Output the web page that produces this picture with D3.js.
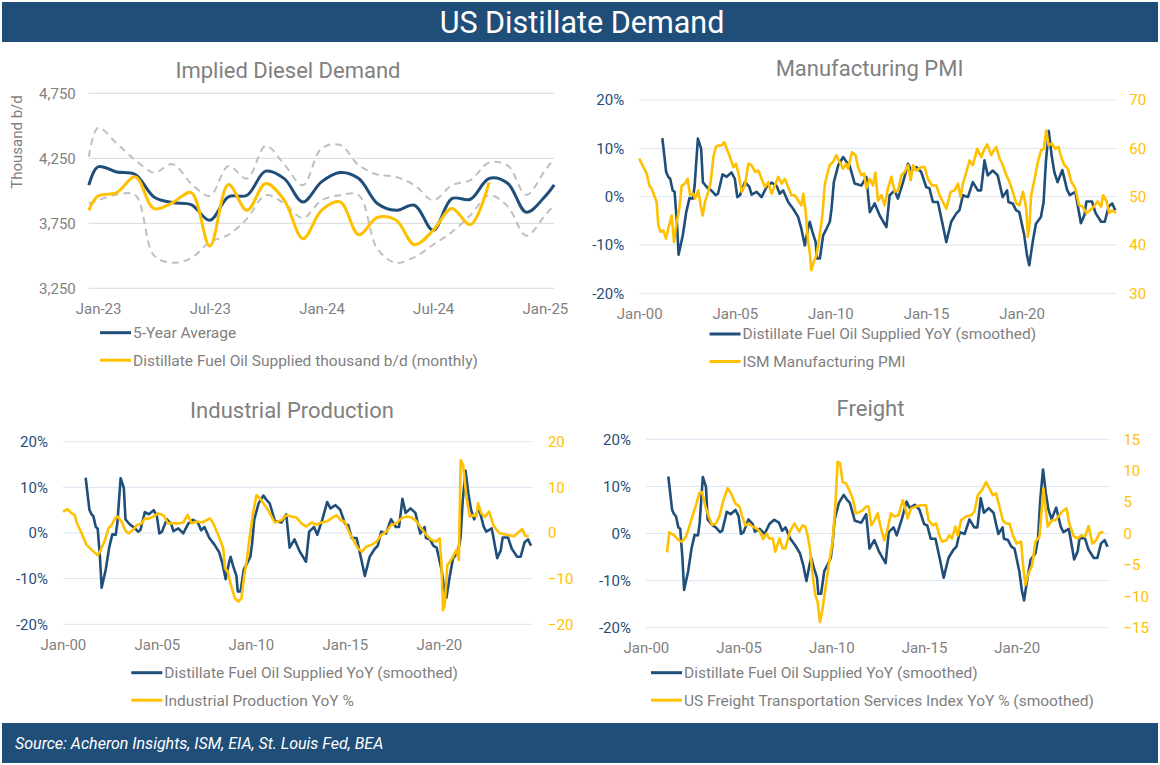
<!DOCTYPE html>
<html><head><meta charset="utf-8">
<script src="https://cdn.jsdelivr.net/npm/d3@7"></script>
<style>
html,body{margin:0;padding:0;background:#fff;}
svg{display:block;font-family:Roboto,"DejaVu Sans",sans-serif;}
</style></head>
<body><svg id="c" width="1160" height="765"></svg>
<script>
// ---------------- DATA ----------------
const mainTitle = "US Distillate Demand";
const sourceText = "Source: Acheron Insights, ISM, EIA, St. Louis Fed, BEA";

// Chart 1: Implied Diesel Demand (month index: 0 = Jan-23)
const c1Ticks = [0, 6, 12, 18, 24];
const c1TickLabels = ["Jan-23", "Jul-23", "Jan-24", "Jul-24", "Jan-25"];
const c1YTicks = [3250, 3750, 4250, 4750];
const bandMonths = [-0.5,0,1,2,3,4,5,6,7,8,9,10,11,12,13,14,15,16,17,18,19,20,21,22,23,24,24.5];
const fiveYearAvg = [4043,4185,4145,4125,3953,3909,3894,3773,3953,3966,4151,4094,3914,4069,4141,4094,3902,3850,3889,3696,3940,3935,4095,4058,3835,3955,4045];
const fiveYearMax = [4262,4485,4364,4236,4141,4205,4056,3961,4190,4094,4346,4202,4043,4326,4352,4197,4125,4107,4043,3927,4043,4082,4218,4195,3968,4156,4250];
const fiveYearMin = [3902,3927,3971,3966,3503,3446,3482,3606,3662,3786,3966,3902,3791,3927,3966,3966,3554,3446,3490,3585,3683,3812,3966,3880,3655,3810,3890];
const actualMonths = [-0.5,0,1,2,3,4,5,6,7,8,9,10,11,12,13,14,15,16,17,18,19,20,21];
const distillateMonthly = [3850,3960,3986,4107,3863,3909,3986,3575,4048,3850,4056,3927,3632,3850,3915,3662,3795,3775,3585,3696,3863,3740,4064];

// Long charts: year ticks
const yearTicks = [2000, 2005, 2010, 2015, 2020];
const yearTickLabels = ["Jan-00", "Jan-05", "Jan-10", "Jan-15", "Jan-20"];
const pctTicks = [-20, -10, 0, 10, 20];

// Distillate Fuel Oil Supplied YoY (smoothed), % — [year, value]
const distillateYoY = [
[2001.21,12.1],[2001.41,5.1],[2001.52,4.1],[2001.62,3.7],[2001.75,1.3],[2001.85,1.0],[2001.97,-5.2],[2002.06,-12.0],
[2002.28,-8.0],[2002.46,-3.2],[2002.63,-0.3],[2002.81,-0.4],[2002.90,2.3],[2003.07,12.0],[2003.24,9.9],[2003.33,3.0],
[2003.47,2.3],[2003.60,1.7],[2003.77,1.3],[2004.00,0.3],[2004.12,0.6],[2004.36,4.6],[2004.57,4.1],[2004.83,5.0],
[2005.00,3.7],[2005.13,-0.1],[2005.27,0.3],[2005.53,3.0],[2005.76,2.0],[2005.88,0.4],[2006.14,1.0],[2006.40,-0.1],
[2006.66,2.0],[2006.92,2.9],[2007.18,2.3],[2007.35,0.6],[2007.53,1.3],[2007.79,-1.1],[2008.05,-2.5],[2008.31,-4.2],
[2008.48,-6.6],[2008.66,-10.1],[2008.83,-6.6],[2008.92,-5.2],[2009.06,-7.3],[2009.23,-9.4],[2009.30,-12.8],[2009.45,-12.8],
[2009.62,-8.0],[2009.80,-6.6],[2009.97,-5.2],[2010.06,-2.5],[2010.18,3.0],[2010.41,6.5],[2010.67,8.2],[2010.84,7.2],
[2011.00,6.5],[2011.27,2.7],[2011.62,2.3],[2011.88,4.1],[2012.06,-3.2],[2012.32,-1.4],[2012.58,-3.9],[2012.93,-6.3],
[2013.10,0.3],[2013.36,1.3],[2013.53,-0.4],[2013.80,3.0],[2014.06,6.8],[2014.23,5.4],[2014.50,6.1],[2014.75,5.1],
[2015.01,2.0],[2015.18,1.7],[2015.36,-1.1],[2015.62,-1.1],[2015.88,-5.9],[2016.06,-9.4],[2016.32,-5.2],[2016.58,-3.5],
[2016.75,-2.8],[2016.93,0.3],[2017.19,-0.1],[2017.45,3.0],[2017.71,1.3],[2017.88,1.3],[2018.06,7.5],[2018.23,4.4],
[2018.49,5.4],[2018.75,4.4],[2019.01,-0.1],[2019.24,1.3],[2019.31,-1.1],[2019.53,-1.4],[2019.71,-2.8],[2019.88,-3.2],
[2020.14,-8.0],[2020.28,-12.1],[2020.40,-14.2],[2020.58,-9.4],[2020.75,-5.6],[2021.01,-4.2],[2021.15,-1.1],[2021.27,7.2],
[2021.42,13.6],[2021.57,8.6],[2021.71,5.1],[2021.88,3.0],[2022.13,5.5],[2022.38,1.4],[2022.52,0.3],[2022.81,1.0],
[2022.90,-1.0],[2023.10,-5.5],[2023.29,-3.8],[2023.39,-1.0],[2023.68,-1.0],[2023.87,-3.4],[2024.16,-5.2],[2024.35,-5.2],
[2024.55,-2.1],[2024.74,-1.4],[2024.90,-2.8]
];

// ISM Manufacturing PMI — [year, value]
const pmiTicks = [30, 40, 50, 60, 70];
const ismPMI = [
[2000.00,57.9],[2000.22,56.1],[2000.39,54.8],[2000.53,52.3],[2000.65,51.7],[2000.78,50.3],[2000.91,48.8],[2001.00,44.1],
[2001.12,42.7],[2001.26,43.0],[2001.40,41.3],[2001.52,43.4],[2001.70,46.1],[2001.82,40.6],[2001.96,44.8],[2002.10,47.5],
[2002.22,52.3],[2002.40,52.7],[2002.53,53.7],[2002.66,50.3],[2002.83,50.6],[2002.92,49.6],[2003.09,51.3],[2003.21,48.2],
[2003.32,46.1],[2003.44,48.9],[2003.61,51.0],[2003.74,53.0],[2003.88,58.2],[2004.01,60.3],[2004.14,60.6],[2004.31,60.6],
[2004.45,61.3],[2004.61,59.6],[2004.75,58.2],[2004.92,56.1],[2005.06,56.8],[2005.19,54.8],[2005.36,51.0],[2005.53,52.3],
[2005.71,56.8],[2005.88,56.5],[2006.06,55.1],[2006.23,55.4],[2006.40,53.7],[2006.58,52.0],[2006.75,53.0],[2006.92,50.6],
[2007.10,52.3],[2007.27,54.1],[2007.45,52.7],[2007.62,53.7],[2007.79,52.0],[2007.97,50.3],[2008.14,50.3],[2008.31,49.2],
[2008.48,48.2],[2008.58,50.6],[2008.71,46.8],[2008.83,40.6],[2008.92,38.6],[2009.00,34.8],[2009.13,36.5],[2009.27,37.9],
[2009.44,42.0],[2009.58,46.1],[2009.70,52.3],[2009.82,54.4],[2009.96,56.5],[2010.14,57.2],[2010.31,58.6],[2010.48,57.2],
[2010.66,55.8],[2010.83,56.8],[2010.92,55.8],[2011.13,59.2],[2011.31,58.6],[2011.45,56.1],[2011.62,54.4],[2011.76,54.8],
[2011.88,51.7],[2012.06,53.7],[2012.23,52.3],[2012.35,55.0],[2012.49,49.2],[2012.67,50.3],[2012.84,48.2],[2013.01,51.7],
[2013.19,54.1],[2013.36,51.0],[2013.54,51.3],[2013.71,54.4],[2013.88,55.1],[2014.06,56.5],[2014.20,53.4],[2014.32,56.5],
[2014.49,55.4],[2014.75,56.1],[2014.93,56.1],[2015.10,53.7],[2015.31,52.3],[2015.54,52.3],[2015.71,50.3],[2015.89,48.9],
[2016.06,47.5],[2016.29,51.0],[2016.50,51.3],[2016.67,52.7],[2016.81,49.9],[2016.93,52.7],[2017.11,55.1],[2017.28,57.5],
[2017.45,56.5],[2017.68,59.9],[2017.89,58.2],[2018.06,59.9],[2018.20,60.8],[2018.41,58.6],[2018.55,59.6],[2018.67,60.3],
[2018.85,57.9],[2019.02,56.5],[2019.20,54.4],[2019.37,53.0],[2019.54,51.0],[2019.72,48.6],[2019.89,48.2],[2020.07,51.0],
[2020.15,49.6],[2020.24,47.5],[2020.33,41.7],[2020.42,44.8],[2020.50,50.3],[2020.68,53.7],[2020.85,57.2],[2021.02,59.6],
[2021.16,59.9],[2021.29,63.7],[2021.41,60.6],[2021.58,61.0],[2021.76,59.9],[2021.93,60.3],[2022.07,58.2],[2022.24,56.5],
[2022.42,55.8],[2022.60,53.1],[2022.81,51.7],[2023.00,48.3],[2023.20,47.9],[2023.39,46.6],[2023.58,47.2],[2023.77,47.9],
[2023.97,49.0],[2024.16,47.9],[2024.26,50.3],[2024.45,49.0],[2024.58,46.6],[2024.74,47.2],[2024.94,46.6]
];

// Industrial Production YoY % — [year, value]
const ipTicks = [-20, -10, 0, 10, 20];
const industrialProduction = [
[2000.00,4.7],[2000.25,5.2],[2000.47,4.3],[2000.64,3.9],[2000.73,2.3],[2001.00,-0.1],[2001.26,-2.6],[2001.53,-3.7],
[2001.85,-4.9],[2002.02,-3.7],[2002.24,-1.5],[2002.42,1.0],[2002.59,1.7],[2002.77,3.2],[2002.91,3.6],[2003.12,2.5],
[2003.30,0.7],[2003.48,-0.1],[2003.74,0.7],[2003.92,1.7],[2004.19,2.1],[2004.36,3.2],[2004.54,3.1],[2004.81,3.6],
[2005.07,4.3],[2005.34,3.9],[2005.60,2.1],[2005.87,2.1],[2006.14,2.1],[2006.40,2.3],[2006.63,3.9],[2006.85,2.1],
[2007.11,2.5],[2007.38,2.3],[2007.64,2.8],[2007.82,3.2],[2008.00,2.1],[2008.23,-0.1],[2008.40,-1.9],[2008.53,-3.4],
[2008.62,-7.7],[2008.76,-8.4],[2008.94,-11.4],[2009.15,-14.3],[2009.33,-15.0],[2009.50,-14.3],[2009.65,-9.2],[2009.77,-6.3],
[2009.95,-0.4],[2010.13,4.7],[2010.30,8.3],[2010.48,7.6],[2010.66,6.5],[2010.92,5.0],[2011.27,2.3],[2011.63,2.8],
[2011.89,3.9],[2012.16,3.6],[2012.42,3.4],[2012.69,2.1],[2012.95,1.4],[2013.22,2.3],[2013.49,1.8],[2013.75,2.3],
[2014.02,2.5],[2014.28,3.2],[2014.55,3.9],[2014.78,2.8],[2014.99,2.5],[2015.26,-0.1],[2015.49,-1.9],[2015.70,-3.4],
[2015.91,-4.1],[2016.14,-3.0],[2016.41,-2.6],[2016.68,-1.9],[2016.94,-0.4],[2017.21,0.3],[2017.47,1.8],[2017.74,2.1],
[2018.00,3.2],[2018.27,3.6],[2018.54,3.4],[2018.80,2.6],[2019.07,1.0],[2019.33,-0.4],[2019.60,-1.5],[2019.86,-1.9],
[2020.04,-1.2],[2020.13,-6.3],[2020.22,-16.9],[2020.31,-15.8],[2020.45,-7.0],[2020.58,-6.3],[2020.75,-5.2],[2020.93,-3.7],
[2021.06,-5.9],[2021.16,16.0],[2021.29,14.9],[2021.46,8.0],[2021.64,3.6],[2021.82,3.9],[2021.99,3.6],[2022.08,6.5],
[2022.26,4.3],[2022.45,3.5],[2022.67,4.7],[2022.92,1.5],[2023.21,0.0],[2023.60,-0.4],[2024.00,-0.7],[2024.19,0.0],
[2024.43,0.9],[2024.59,-0.6],[2024.78,-0.7]
];

// US Freight Transportation Services Index YoY % (smoothed) — [year, value]
const freightTicks = [-15, -10, -5, 0, 5, 10, 15];
const freightIndex = [
[2001.14,-3.0],[2001.26,0.2],[2001.53,-0.3],[2001.77,-1.1],[2001.95,-1.3],[2002.16,-0.5],[2002.31,0.8],[2002.52,2.9],
[2002.70,4.5],[2002.88,6.4],[2003.03,6.6],[2003.21,4.3],[2003.39,2.7],[2003.57,1.4],[2003.78,1.6],[2003.96,2.7],
[2004.18,5.3],[2004.41,7.2],[2004.59,6.4],[2004.82,4.8],[2005.04,4.3],[2005.18,2.9],[2005.36,1.3],[2005.54,1.6],
[2005.75,1.1],[2005.97,0.8],[2006.15,0.3],[2006.33,-0.9],[2006.51,0.0],[2006.66,-0.8],[2006.84,-0.8],[2006.98,-2.9],
[2007.20,-0.8],[2007.38,-2.4],[2007.52,-2.4],[2007.77,0.3],[2008.01,1.6],[2008.27,0.3],[2008.45,1.3],[2008.60,1.1],
[2008.72,-0.3],[2008.85,-2.4],[2008.99,-6.6],[2009.14,-9.8],[2009.26,-10.9],[2009.39,-14.1],[2009.53,-12.0],[2009.71,-8.2],
[2009.89,-4.5],[2010.07,-1.3],[2010.22,4.5],[2010.34,11.4],[2010.47,11.2],[2010.61,8.2],[2010.79,8.0],[2010.97,6.9],
[2011.15,5.6],[2011.33,3.2],[2011.51,3.4],[2011.69,3.7],[2011.87,4.3],[2012.01,4.3],[2012.16,1.3],[2012.32,2.1],
[2012.50,3.2],[2012.68,0.8],[2012.86,-1.1],[2013.04,0.8],[2013.22,3.2],[2013.40,2.7],[2013.63,2.9],[2013.76,4.3],
[2013.85,5.3],[2013.99,4.0],[2014.12,2.4],[2014.30,4.0],[2014.57,4.3],[2014.84,4.5],[2015.11,4.5],[2015.25,2.1],
[2015.47,1.3],[2015.65,1.6],[2015.83,-0.3],[2015.97,-1.3],[2016.19,-1.1],[2016.37,-0.3],[2016.51,-0.8],[2016.69,1.1],
[2016.82,-0.3],[2017.00,2.1],[2017.27,2.7],[2017.54,2.9],[2017.72,3.5],[2017.90,6.1],[2018.13,6.9],[2018.35,8.2],
[2018.53,7.2],[2018.71,6.1],[2018.89,6.4],[2019.07,4.3],[2019.25,2.1],[2019.43,1.6],[2019.61,1.6],[2019.79,-0.3],
[2020.00,-1.6],[2020.24,-1.3],[2020.36,-5.6],[2020.47,-8.2],[2020.60,-6.6],[2020.83,-5.1],[2021.01,-1.3],[2021.23,-0.5],
[2021.44,7.2],[2021.67,1.1],[2021.91,2.1],[2022.09,2.1],[2022.30,2.9],[2022.45,3.5],[2022.69,4.0],[2022.83,1.6],
[2023.09,-0.5],[2023.29,-0.8],[2023.48,-0.3],[2023.68,-0.5],[2023.88,1.2],[2024.08,-1.6],[2024.28,-1.1],[2024.48,0.1],
[2024.68,0.3]
];

// ---------------- STYLE ----------------
const NAVY = "#1F4E79", GOLD = "#FFC000", GREY_TXT = "#7F7F7F", TITLE_TXT = "#808080";
const FONT = "Roboto, 'DejaVu Sans', sans-serif";
const TICK_FS = 15, LEG_FS = 15.5, TITLE_FS = 22;
const svg = d3.select("#c");

// header & footer bands
svg.append("rect").attr("x",2).attr("y",2).attr("width",1156).attr("height",40).attr("fill",NAVY);
svg.append("text").attr("x",582).attr("y",33).attr("text-anchor","middle").attr("fill","#fff")
  .attr("font-size",30.5).attr("font-family",FONT).text(mainTitle);
svg.append("rect").attr("x",2).attr("y",723).attr("width",1156).attr("height",40).attr("fill",NAVY);
svg.append("text").attr("x",15).attr("y",749).attr("fill","#fff").attr("font-style","italic")
  .attr("font-size",16).attr("font-family",FONT).text(sourceText);

function legend(g, x0, y0, items) {
  items.forEach((it, i) => {
    const y = y0 + i * 27.5;
    g.append("line").attr("x1", x0).attr("x2", x0 + 31).attr("y1", y).attr("y2", y)
      .attr("stroke", it.color).attr("stroke-width", 3);
    g.append("text").attr("x", x0 + 33).attr("y", y).attr("dy", "0.35em").attr("fill", GREY_TXT)
      .attr("font-size", LEG_FS).attr("font-family", FONT).text(it.label);
  });
}

// ---------------- CHART 1 ----------------
(function(){
  const g = svg.append("g");
  const x = d3.scaleLinear().domain([-0.5, 24.5]).range([88.8, 554.2]);
  const y = d3.scaleLinear().domain([3250, 4750]).range([288.3, 93.3]);
  g.append("text").attr("x",288).attr("y",78).attr("text-anchor","middle").attr("fill",TITLE_TXT)
    .attr("font-size",TITLE_FS).attr("font-family",FONT).text("Implied Diesel Demand");
  g.selectAll(".gl").data(c1YTicks).join("line").attr("x1",x.range()[0]).attr("x2",x.range()[1])
    .attr("y1",d=>y(d)).attr("y2",d=>y(d)).attr("stroke","#D9D9D9").attr("stroke-width",1);
  const yAxis = d3.axisLeft(y).tickValues(c1YTicks).tickFormat(d3.format(",")).tickSize(0).tickPadding(13);
  const ya = g.append("g").attr("transform","translate(88.8,0)").call(yAxis);
  ya.select(".domain").remove();
  ya.selectAll("text").attr("fill",GREY_TXT).attr("font-size",TICK_FS).attr("font-family",FONT);
  const xAxis = d3.axisBottom(x).tickValues(c1Ticks).tickFormat((d,i)=>c1TickLabels[i]).tickSize(0).tickPadding(10);
  const xa = g.append("g").attr("transform","translate(0,298)").call(xAxis);
  xa.select(".domain").remove();
  xa.selectAll("text").attr("fill",GREY_TXT).attr("font-size",TICK_FS).attr("font-family",FONT).attr("dy","0.35em").attr("y",11);
  g.append("text").attr("transform","rotate(-90)").attr("x",-142).attr("y",22).attr("text-anchor","middle")
    .attr("fill",GREY_TXT).attr("font-size",TICK_FS).attr("font-family",FONT).text("Thousand b/d");
  const line = d3.line().x(d=>x(d[0])).y(d=>y(d[1])).curve(d3.curveCatmullRom);
  const z = (xs, ys) => xs.map((m,i)=>[m, ys[i]]);
  [fiveYearMax, fiveYearMin].forEach(arr => {
    g.append("path").attr("d", line(z(bandMonths, arr))).attr("fill","none").attr("stroke","#BFBFBF")
      .attr("stroke-width",2).attr("stroke-dasharray","7,5");
  });
  g.append("path").attr("d", line(z(bandMonths, fiveYearAvg))).attr("fill","none").attr("stroke",NAVY).attr("stroke-width",3);
  g.append("path").attr("d", line(z(actualMonths, distillateMonthly))).attr("fill","none").attr("stroke",GOLD).attr("stroke-width",3);
  legend(g, 100, 332.7, [{color:NAVY,label:"5-Year Average"},{color:GOLD,label:"Distillate Fuel Oil Supplied thousand b/d (monthly)"}]);
})();

// ---------------- DUAL AXIS CHARTS ----------------
function dual(cfg) {
  const g = svg.append("g");
  const x = d3.scaleLinear().domain([2000, 2025]).range([cfg.x0, cfg.x1]);
  const yL = d3.scaleLinear().domain([-20, 20]).range([cfg.yb, cfg.yt]);
  const yR = d3.scaleLinear().domain(cfg.rDomain).range([cfg.yb, cfg.yt]);
  g.append("text").attr("x",cfg.titleX).attr("y",cfg.titleY).attr("text-anchor","middle").attr("fill",TITLE_TXT)
    .attr("font-size",TITLE_FS).attr("font-family",FONT).text(cfg.title);
  g.selectAll(".gl").data(pctTicks).join("line").attr("x1",cfg.x0).attr("x2",cfg.x1)
    .attr("y1",d=>yL(d)).attr("y2",d=>yL(d)).attr("stroke","#DCE5F2").attr("stroke-width",1);
  const la = g.append("g").attr("transform",`translate(${cfg.x0},0)`)
    .call(d3.axisLeft(yL).tickValues(pctTicks).tickFormat(d=>d+"%").tickSize(0).tickPadding(cfg.lPad));
  la.select(".domain").remove();
  la.selectAll("text").attr("fill",NAVY).attr("font-size",TICK_FS).attr("font-family",FONT);
  const ra = g.append("g").attr("transform",`translate(${cfg.x1},0)`)
    .call(d3.axisRight(yR).tickValues(cfg.rTicks).tickSize(0).tickPadding(cfg.rPad));
  ra.select(".domain").remove();
  ra.selectAll("text").attr("fill",GOLD).attr("font-size",TICK_FS).attr("font-family",FONT);
  const xa = g.append("g").attr("transform",`translate(0,${cfg.xLabY})`)
    .call(d3.axisBottom(x).tickValues(yearTicks).tickFormat((d,i)=>yearTickLabels[i]).tickSize(0).tickPadding(0));
  xa.select(".domain").remove();
  xa.selectAll("text").attr("fill",GREY_TXT).attr("font-size",TICK_FS).attr("font-family",FONT).attr("y",0).attr("dy","0.35em");
  const lineL = d3.line().x(d=>x(d[0])).y(d=>yL(d[1]));
  const lineR = d3.line().x(d=>x(d[0])).y(d=>yR(d[1]));
  g.append("path").attr("d", lineL(distillateYoY)).attr("fill","none").attr("stroke",NAVY).attr("stroke-width",2.6).attr("stroke-linejoin","round");
  g.append("path").attr("d", lineR(cfg.series)).attr("fill","none").attr("stroke",GOLD).attr("stroke-width",2.6).attr("stroke-linejoin","round");
  legend(g, cfg.legX, cfg.legY, [{color:NAVY,label:"Distillate Fuel Oil Supplied YoY (smoothed)"},{color:GOLD,label:cfg.label}]);
}

dual({title:"Manufacturing PMI", titleX:869.5, titleY:76, x0:639.2, x1:1117.2, yt:100, yb:293.3, rDomain:[30,70], rTicks:pmiTicks,
  series:ismPMI, label:"ISM Manufacturing PMI", lPad:15, rPad:12, xLabY:313.3, legX:709.5, legY:334});
dual({title:"Industrial Production", titleX:292, titleY:418, x0:62.9, x1:532.9, yt:441.7, yb:624.3, rDomain:[-20,20], rTicks:ipTicks,
  series:industrialProduction, label:"Industrial Production YoY %", lPad:15, rPad:15, xLabY:645, legX:131.3, legY:672.7});
dual({title:"Freight", titleX:870.5, titleY:416, x0:645.9, x1:1109.4, yt:439.3, yb:627.7, rDomain:[-15,15], rTicks:freightTicks,
  series:freightIndex, label:"US Freight Transportation Services Index YoY % (smoothed)", lPad:15, rPad:14, xLabY:647.7, legX:651, legY:672.7});
</script></body></html>
